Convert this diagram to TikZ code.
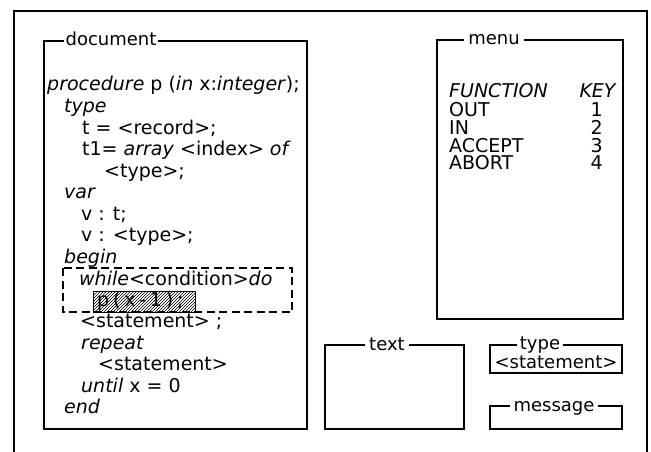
\documentclass[tikz,border=0pt]{standalone}
\usepackage{fontspec}
\setmainfont{DejaVu Sans}
\usetikzlibrary{patterns}
\begin{document}
\begin{tikzpicture}[x=1pt,y=-1pt,
  frame/.style={draw, line width=1.5pt},
  box/.style={draw, line width=1.2pt},
  dbox/.style={draw, line width=1.2pt, dash pattern=on 8pt off 4.5pt},
  ttl/.style={fill=white, inner xsep=3pt, inner ysep=0pt, anchor=base, text height=13pt, text depth=3pt, font=\fontsize{18}{21}\selectfont},
  ln/.style={anchor=base west, inner sep=0pt, text height=14pt, text depth=4pt, font=\fontsize{19}{22}\selectfont},
  lnc/.style={anchor=base, inner sep=0pt, text height=13pt, text depth=3pt, font=\fontsize{18}{21}\selectfont},
  mn/.style={anchor=base west, inner sep=0pt, text height=14pt, text depth=0pt, font=\fontsize{19}{22}\selectfont},
  mnr/.style={anchor=base east, inner sep=0pt, text height=14pt, text depth=0pt, font=\fontsize{19}{22}\selectfont}]
\useasboundingbox (0,0) rectangle (651,452);
% outer frame
\draw[frame] (14,452) -- (14,11) -- (647,11) -- (647,452);
% boxes
\draw[box] (44,41) rectangle (307,429);
\draw[box] (437,40) rectangle (623,319);
\draw[box] (325,345) rectangle (464,429);
\draw[box] (490,345) rectangle (622,373);
\draw[box] (490,406) rectangle (622,429);
% titles
\node[ttl, inner xsep=2pt] (tdoc) at (111,46) {document};
\node[ttl, inner xsep=4pt] (tmenu) at (494,45) {menu};
\node[ttl, inner xsep=4pt] (ttext) at (387,350) {text};
\node[ttl, inner xsep=3pt] (ttype) at (540,349) {type};
\node[ttl, inner xsep=4pt] (tmsg) at (554,411) {message};
% type content
\node[lnc] (tstmt) at (556,368.5) {<statement>};
% document lines
\node[ln] (l1) at (47,91) {\textit{procedure} p (\textit{in} x:\textit{integer});};
\node[ln] (l2) at (64,112.5) {\textit{type}};
\node[ln] (l3) at (82,134) {t = <record>;};
\node[ln] (l4) at (82,155.5) {t1= \textit{array} <index> \textit{of}};
\node[ln] (l5) at (104,177) {<type>;};
\node[ln] (l6) at (64,198.5) {\textit{var}};
\node[ln] (l7) at (81,220) {v : t;};
\node[ln] (l8) at (81,241.5) {v : <type>;};
\node[ln] (l9) at (64,263) {\textit{begin}};
\node[ln] (l10) at (79,285) {\textit{while}<condition>\textit{do}};
\node[ln] (l11) at (97,306.5) {\addfontfeature{LetterSpace=20}p(x-1);};
\node[ln] (l12) at (80,327.5) {<statement> ;};
\node[ln] (l13) at (81,349) {\textit{repeat}};
\node[ln] (l14) at (98,370.5) {<statement>};
\node[ln] (l15) at (81,392) {\textit{until} x = 0};
\node[ln] (l16) at (64,413.5) {\textit{end}};
% selection and hatched call
\draw[dbox] (63,268) rectangle (292,312);
\draw[box, line width=1pt, pattern=north east lines] (93,291) rectangle (195,312);
% menu
\node[mn] (mf) at (449,98) {\textit{FUNCTION}};
\node[mnr] (mk) at (617,98) {\textit{KEY}};
\node[mn] (m1) at (449,117) {OUT};
\node[mnr] (k1) at (603,117) {1};
\node[mn] (m2) at (449,134.5) {IN};
\node[mnr] (k2) at (603,134.5) {2};
\node[mn] (m3) at (449,152) {ACCEPT};
\node[mnr] (k3) at (603,152) {3};
\node[mn] (m4) at (449,169.5) {ABORT};
\node[mnr] (k4) at (603,169.5) {4};
\end{tikzpicture}
\end{document}
